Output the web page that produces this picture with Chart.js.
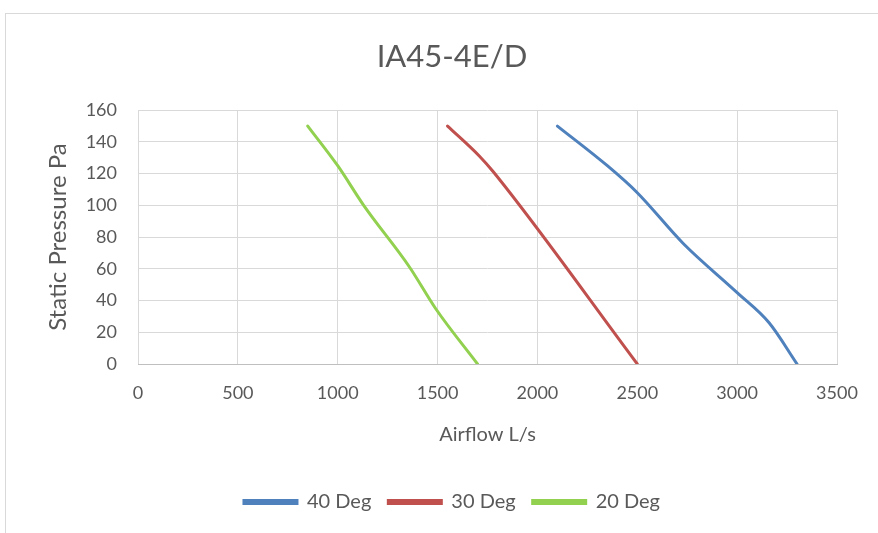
<!DOCTYPE html>
<html>
<head>
<meta charset="utf-8">
<script src="https://cdn.jsdelivr.net/npm/chart.js@4"></script>
<style>
  body { margin: 0; background: #fff; overflow: hidden; }
  #frame { position: absolute; left: 5px; top: 13px; width: 880px; height: 530px; border: 1px solid #d9d9d9; }
  #chart { display: block; }
</style>
</head>
<body>
<div id="frame"><canvas id="chart" width="872" height="519"></canvas></div>
<script>
const seriesNames = ["40 Deg", "30 Deg", "20 Deg"];
const seriesColors = ["#4F81BD", "#C0504D", "#92D050"];

// airflow (L/s) and static pressure (Pa)
const flow40 = [2100, 2350, 2500, 2730, 3000, 3160, 3300];
const pres40 = [150, 125, 108, 76, 45, 26, 0];
const flow30 = [1550, 1710, 1780, 2500];
const pres30 = [150, 131, 121, 0];
const flow20 = [850, 1000, 1130, 1360, 1490, 1700];
const pres20 = [150, 125, 100, 61, 35, 0];

const xTicks = [0, 500, 1000, 1500, 2000, 2500, 3000, 3500];
const yTicks = [0, 20, 40, 60, 80, 100, 120, 140, 160];

const toPoints = (xs, ys) => xs.map((x, i) => ({ x: x, y: ys[i] }));
const allFlows = [flow40, flow30, flow20];
const allPres = [pres40, pres30, pres20];

const textColor = "#595959";
const fontFamily = "Lato, 'Open Sans', sans-serif";

const chart = new Chart(document.getElementById("chart"), {
    type: "line",
    data: {
        datasets: seriesNames.map((name, i) => ({
            label: name,
            data: toPoints(allFlows[i], allPres[i]),
            borderColor: seriesColors[i],
            backgroundColor: seriesColors[i],
            borderWidth: 3,
            pointRadius: 0,
            cubicInterpolationMode: "monotone",
            borderCapStyle: "round",
        })),
    },
    options: {
        responsive: false,
        animation: false,
        // left padding only centres the legend like the original
        layout: { padding: { left: 61, right: 41, top: 0, bottom: 11 } },
        plugins: {
            title: {
                display: true,
                text: "IA45-4E/D",
                color: textColor,
                font: { family: fontFamily, size: 31, weight: "normal" },
                padding: { top: 24, bottom: 35 },
            },
            legend: {
                position: "bottom",
                labels: {
                    color: textColor,
                    font: { family: fontFamily, size: 20 },
                    boxWidth: 53,
                    boxHeight: 3,
                    padding: 17,
                },
            },
            tooltip: { enabled: false },
        },
        scales: {
            x: {
                type: "linear",
                min: 0,
                max: 3500,
                afterBuildTicks: (s) => { s.ticks = xTicks.map(v => ({ value: v })); },
                afterFit: (s) => { s.height = 111; },
                ticks: {
                    color: textColor,
                    font: { family: fontFamily, size: 18 },
                    padding: 18,
                    callback: (v) => String(v),
                },
                grid: { color: "#d9d9d9", drawTicks: false },
                border: { color: "#bfbfbf" },
                title: {
                    display: true,
                    text: "Airflow L/s",
                    color: textColor,
                    font: { family: fontFamily, size: 20 },
                    padding: { top: 0, bottom: 28 },
                },
            },
            y: {
                min: 0,
                max: 160,
                afterBuildTicks: (s) => { s.ticks = yTicks.map(v => ({ value: v })); },
                afterFit: (s) => { s.width = 71; },
                ticks: { color: textColor, font: { family: fontFamily, size: 18 }, padding: 21 },
                grid: { color: "#d9d9d9", drawTicks: false },
                border: { display: false },
                title: {
                    display: true,
                    text: "Static Pressure Pa",
                    color: textColor,
                    font: { family: fontFamily, size: 24 },
                    padding: { top: -23, bottom: 0 },
                },
            },
        },
    },
});
</script>
</body>
</html>
